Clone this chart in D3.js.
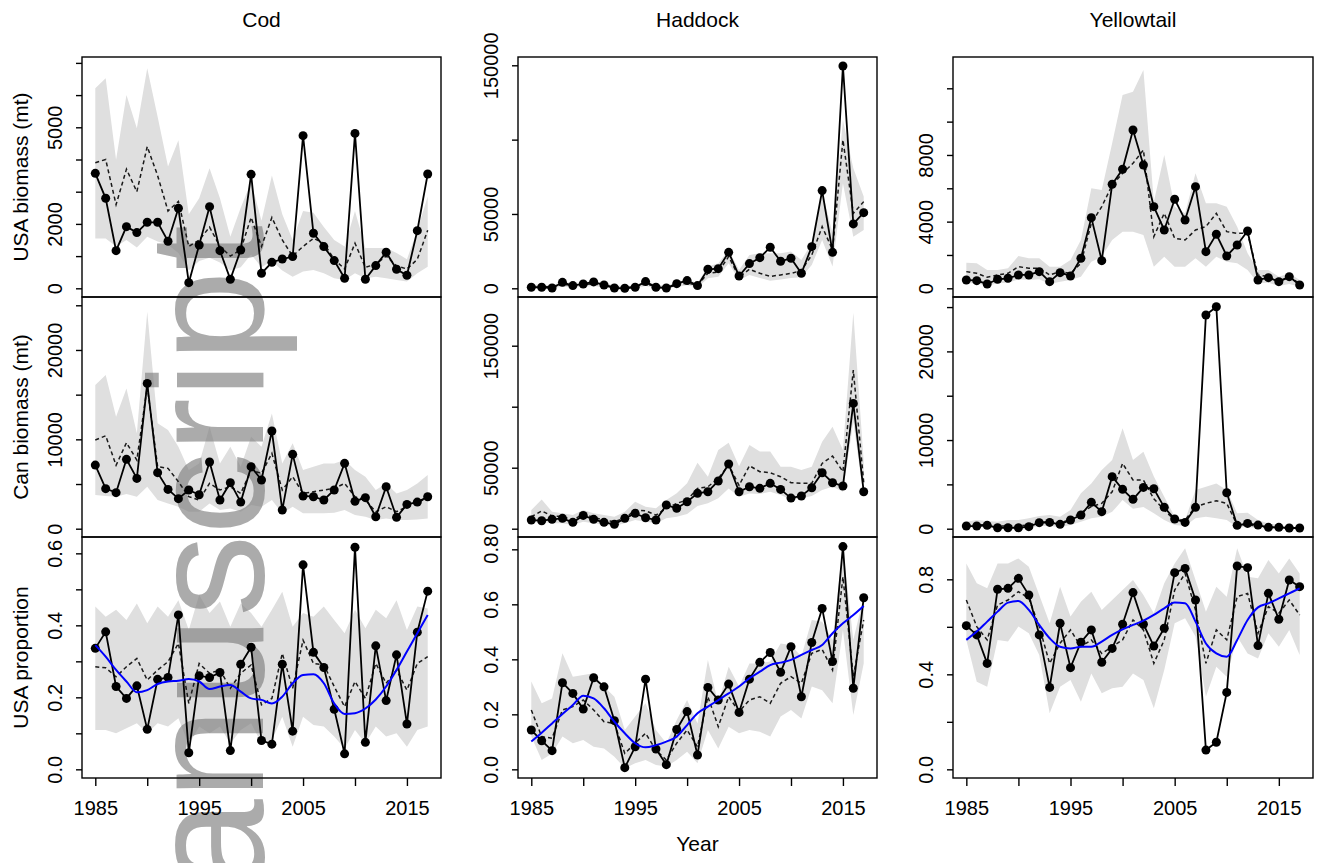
<!DOCTYPE html>
<html>
<head>
<meta charset="utf-8">
<script src="https://cdn.jsdelivr.net/npm/d3@7"></script>
<style>
  body { margin: 0; background: #fff; }
  svg text { font-family: "Liberation Sans", Arial, sans-serif; fill: #000; }
</style>
</head>
<body>
<svg id="chart" width="1320" height="863"></svg>
<script>
// ---- data ----
const years = d3.range(1985, 2018);
const stocks = ["Cod", "Haddock", "Yellowtail"];
const rowTitles = ["USA biomass (mt)", "Can biomass (mt)", "USA proportion"];
const xTicks = [1985, 1990, 1995, 2000, 2005, 2010, 2015];
const xTickLabels = [1985, 1995, 2005, 2015];

// Cod
const codUSA = [3570, 2795, 1170, 1915, 1730, 2050, 2050, 1460, 2485, 175, 1345, 2535, 1170, 280, 1190, 3540, 465, 807, 910, 985, 4740, 1710, 1295, 860, 310, 4810, 280, 705, 1120, 590, 405, 1790, 3550];
const codUSAFit = [3900, 4000, 2600, 3700, 3000, 4400, 3500, 2400, 2700, 1300, 1500, 1900, 1300, 1000, 1200, 2200, 1300, 2200, 1500, 1000, 1300, 1550, 1400, 900, 600, 1400, 650, 750, 1000, 700, 600, 900, 1800];
const codUSAHi = [6210, 6520, 3990, 6000, 4970, 6830, 5330, 3780, 4600, 2300, 2800, 3730, 2800, 1600, 2500, 3300, 2100, 3500, 2300, 1500, 2400, 2350, 1900, 1500, 1300, 2400, 1250, 1250, 1250, 1100, 900, 1800, 2850];
const codUSALo = [1550, 1550, 1300, 1500, 1270, 1600, 1450, 1350, 1100, 550, 850, 950, 800, 550, 650, 1050, 650, 850, 550, 360, 520, 570, 470, 310, 260, 470, 310, 360, 310, 260, 210, 470, 670];

const codCan = [7120, 4480, 4030, 7760, 5630, 16260, 6270, 4400, 3360, 4330, 3800, 7460, 3210, 5150, 2980, 6940, 5450, 10930, 2090, 8320, 3660, 3580, 3210, 4330, 7310, 3060, 3470, 1340, 4700, 1270, 2720, 2980, 3580];
const codCanFit = [9920, 10400, 7100, 9620, 7680, 15900, 6940, 6750, 5260, 3580, 3210, 5070, 4330, 4700, 3950, 6560, 6190, 8430, 4330, 5820, 3950, 4140, 4330, 4510, 5070, 3580, 3210, 1900, 2460, 1900, 2460, 2830, 3580];
const codCanHi = [16080, 17200, 12530, 15700, 10670, 24280, 11790, 11040, 9180, 6560, 7310, 11410, 7310, 9180, 6940, 10290, 9180, 12900, 7310, 9550, 6560, 6940, 7310, 7310, 7680, 6560, 5820, 4330, 5070, 3950, 4330, 5070, 6000];
const codCanLo = [3770, 3660, 3580, 3880, 3580, 4700, 3210, 2830, 2460, 1900, 1900, 2830, 2090, 2270, 1900, 2650, 2460, 3210, 1720, 2460, 1720, 1720, 1720, 1790, 2090, 1530, 1340, 970, 1150, 970, 970, 1040, 1150];

const codProp = [0.336, 0.382, 0.230, 0.197, 0.232, 0.111, 0.250, 0.255, 0.429, 0.046, 0.260, 0.255, 0.269, 0.052, 0.292, 0.339, 0.080, 0.070, 0.292, 0.106, 0.568, 0.325, 0.283, 0.167, 0.043, 0.617, 0.075, 0.343, 0.191, 0.318, 0.126, 0.381, 0.495];
const codPropFit = [0.285, 0.282, 0.257, 0.285, 0.308, 0.248, 0.276, 0.299, 0.350, 0.183, 0.294, 0.267, 0.276, 0.225, 0.267, 0.290, 0.179, 0.197, 0.322, 0.225, 0.359, 0.294, 0.290, 0.230, 0.174, 0.244, 0.197, 0.294, 0.239, 0.276, 0.220, 0.294, 0.313];
const codPropHi = [0.452, 0.424, 0.443, 0.415, 0.461, 0.406, 0.452, 0.424, 0.470, 0.387, 0.484, 0.434, 0.466, 0.396, 0.461, 0.434, 0.396, 0.443, 0.493, 0.396, 0.434, 0.424, 0.452, 0.415, 0.378, 0.443, 0.392, 0.443, 0.420, 0.470, 0.387, 0.452, 0.447];
const codPropLo = [0.109, 0.109, 0.100, 0.114, 0.128, 0.100, 0.128, 0.119, 0.142, 0.068, 0.119, 0.100, 0.119, 0.072, 0.109, 0.128, 0.072, 0.081, 0.146, 0.063, 0.146, 0.123, 0.119, 0.091, 0.058, 0.109, 0.072, 0.119, 0.091, 0.100, 0.063, 0.109, 0.119];
const codPropSmooth = [0.345, 0.313, 0.276, 0.244, 0.214, 0.220, 0.237, 0.244, 0.246, 0.251, 0.244, 0.223, 0.230, 0.234, 0.216, 0.197, 0.193, 0.183, 0.202, 0.239, 0.262, 0.264, 0.239, 0.183, 0.154, 0.156, 0.169, 0.194, 0.230, 0.276, 0.327, 0.378, 0.429];

// Haddock
const hadUSA = [700, 700, 200, 4000, 1800, 2900, 4300, 2200, 200, 0, 700, 4500, 700, 200, 3100, 5200, 1800, 12800, 13200, 24200, 8300, 16600, 20600, 27600, 18200, 20200, 10100, 28000, 65700, 24200, 149500, 43300, 50900];
const hadUSAFit = [1500, 1200, 900, 2500, 2000, 2500, 3000, 2000, 1000, 500, 1000, 3000, 1200, 500, 2000, 3500, 2000, 10100, 11000, 21300, 7500, 12800, 10100, 8000, 9000, 10000, 12000, 22400, 41500, 25800, 99800, 50400, 58300];
const hadUSAHi = [2500, 2500, 2000, 4500, 3500, 4000, 5000, 3500, 2000, 1500, 2000, 5000, 2500, 1500, 4000, 6000, 3500, 14600, 16800, 25800, 12300, 22400, 23500, 23500, 23500, 24700, 19000, 30300, 65000, 37000, 113000, 80700, 61700];
const hadUSALo = [0, 0, 0, 1000, 500, 1000, 1500, 500, 0, 0, 0, 1500, 0, 0, 800, 2000, 500, 6700, 7800, 16800, 5600, 9000, 7000, 5000, 6000, 7000, 7500, 15700, 32500, 14600, 70600, 34700, 39200];

const hadCan = [7100, 6560, 7650, 8470, 5190, 10900, 7650, 5190, 3550, 8470, 12570, 9000, 7100, 19400, 16700, 22100, 29000, 30300, 39100, 53000, 30300, 34400, 33100, 37200, 32200, 25100, 26800, 33600, 45900, 37700, 35000, 102700, 30300];
const hadCanFit = [9800, 14500, 10400, 9800, 7100, 12000, 9300, 7100, 5700, 8500, 15300, 14700, 11200, 16700, 20800, 23500, 33000, 34400, 41200, 52200, 35500, 51600, 46700, 45900, 42600, 37700, 37200, 37200, 53500, 59500, 46700, 130000, 38000];
const hadCanHi = [15300, 24000, 13900, 12600, 11200, 15300, 12600, 11200, 9800, 13900, 22100, 18000, 16700, 23500, 29000, 37200, 54100, 42600, 64500, 70500, 51100, 68600, 63200, 63200, 50800, 50800, 48100, 50800, 71300, 83600, 64500, 177000, 55000];
const hadCanLo = [4900, 5700, 4400, 4400, 3000, 5700, 4400, 3000, 2200, 4400, 7100, 5700, 4400, 8500, 9800, 12000, 18600, 20800, 24900, 33000, 26200, 28900, 28400, 30300, 27600, 24000, 24900, 26800, 31700, 34400, 30300, 87700, 26000];

const hadProp = [0.143, 0.104, 0.068, 0.315, 0.276, 0.219, 0.333, 0.300, 0.177, 0.006, 0.082, 0.328, 0.074, 0.017, 0.145, 0.210, 0.052, 0.298, 0.252, 0.310, 0.207, 0.328, 0.389, 0.425, 0.353, 0.446, 0.264, 0.461, 0.585, 0.392, 0.810, 0.295, 0.624];
const hadPropFit = [0.216, 0.119, 0.113, 0.216, 0.228, 0.252, 0.216, 0.173, 0.167, 0.058, 0.095, 0.131, 0.070, 0.034, 0.095, 0.143, 0.082, 0.264, 0.155, 0.264, 0.210, 0.252, 0.264, 0.240, 0.313, 0.337, 0.313, 0.422, 0.436, 0.361, 0.700, 0.337, 0.543];
const hadPropHi = [0.319, 0.240, 0.258, 0.422, 0.337, 0.343, 0.349, 0.301, 0.264, 0.143, 0.192, 0.240, 0.143, 0.095, 0.179, 0.252, 0.167, 0.398, 0.240, 0.373, 0.301, 0.385, 0.385, 0.392, 0.458, 0.452, 0.410, 0.543, 0.537, 0.470, 0.810, 0.470, 0.628];
const hadPropLo = [0.119, 0.034, 0.058, 0.119, 0.095, 0.107, 0.082, 0.076, 0.046, 0.004, 0.022, 0.034, 0.016, 0.010, 0.034, 0.064, 0.022, 0.143, 0.076, 0.155, 0.131, 0.143, 0.137, 0.119, 0.192, 0.216, 0.185, 0.301, 0.288, 0.240, 0.507, 0.198, 0.385];
const hadPropSmooth = [0.101, 0.133, 0.167, 0.201, 0.234, 0.268, 0.258, 0.222, 0.173, 0.131, 0.095, 0.080, 0.088, 0.101, 0.119, 0.161, 0.204, 0.228, 0.252, 0.276, 0.301, 0.331, 0.355, 0.379, 0.388, 0.398, 0.416, 0.434, 0.452, 0.495, 0.531, 0.561, 0.594];

// Yellowtail
const ytUSA = [500, 460, 260, 540, 600, 800, 800, 1000, 400, 940, 740, 1800, 4240, 1660, 6240, 7140, 9500, 7400, 4900, 3500, 5340, 4100, 6100, 2200, 3240, 1940, 2600, 3440, 500, 640, 400, 700, 200];
const ytUSAFit = [1000, 900, 660, 800, 900, 1300, 1200, 1200, 800, 1000, 900, 1500, 3900, 4900, 6200, 6900, 7500, 8300, 3100, 4500, 3000, 2900, 3500, 3700, 4500, 3400, 3300, 3300, 800, 700, 400, 660, 300];
const ytUSAHi = [1540, 1500, 1100, 1100, 1200, 1940, 1800, 1800, 1300, 1300, 1700, 2900, 6000, 5900, 8700, 11600, 11800, 13100, 5200, 8000, 4900, 4500, 6900, 5100, 5100, 4900, 3700, 2100, 1100, 1100, 700, 900, 500];
const ytUSALo = [300, 300, 140, 300, 340, 540, 500, 540, 260, 400, 500, 700, 1600, 1900, 2900, 3400, 3400, 3200, 1300, 1900, 1300, 1300, 1800, 1300, 1900, 1600, 1500, 1100, 300, 340, 140, 260, 100];

const ytCan = [300, 300, 380, 110, 110, 110, 230, 680, 710, 490, 980, 1540, 2970, 1920, 5870, 4440, 3310, 4660, 4510, 2410, 1090, 710, 2410, 24100, 25040, 4060, 380, 600, 410, 150, 150, 80, 80];
const ytCanFit = [400, 450, 450, 300, 300, 350, 400, 700, 800, 600, 1100, 1800, 2480, 2860, 4170, 7370, 5490, 5490, 3380, 2110, 980, 980, 2480, 2860, 3160, 2860, 410, 410, 300, 150, 150, 80, 80];
const ytCanHi = [790, 980, 870, 790, 980, 980, 1170, 1430, 1540, 1350, 2110, 3990, 5110, 6620, 7750, 11320, 7750, 8690, 5900, 3610, 1350, 980, 4360, 4740, 5110, 4360, 1730, 1800, 980, 600, 410, 230, 150];
const ytCanLo = [150, 150, 150, 0, 0, 0, 80, 300, 300, 150, 410, 790, 1170, 1350, 1900, 3230, 2260, 2450, 1730, 980, 410, 300, 1170, 1350, 1170, 980, 150, 150, 80, 0, 0, 0, 0];

const ytProp = [0.605, 0.566, 0.446, 0.758, 0.762, 0.804, 0.734, 0.566, 0.345, 0.615, 0.428, 0.535, 0.587, 0.451, 0.509, 0.611, 0.744, 0.611, 0.519, 0.594, 0.828, 0.846, 0.713, 0.081, 0.114, 0.324, 0.856, 0.849, 0.521, 0.741, 0.632, 0.797, 0.769];
const ytPropFit = [0.713, 0.601, 0.545, 0.692, 0.713, 0.748, 0.720, 0.601, 0.446, 0.531, 0.587, 0.516, 0.545, 0.488, 0.516, 0.545, 0.629, 0.587, 0.446, 0.545, 0.755, 0.825, 0.671, 0.446, 0.587, 0.545, 0.727, 0.741, 0.573, 0.685, 0.657, 0.713, 0.650];
const ytPropHi = [0.867, 0.783, 0.762, 0.867, 0.867, 0.888, 0.853, 0.734, 0.615, 0.769, 0.643, 0.706, 0.748, 0.671, 0.713, 0.755, 0.797, 0.734, 0.657, 0.783, 0.867, 0.931, 0.797, 0.664, 0.769, 0.727, 0.931, 0.811, 0.804, 0.881, 0.825, 0.888, 0.825];
const ytPropLo = [0.545, 0.369, 0.348, 0.545, 0.538, 0.601, 0.573, 0.481, 0.236, 0.348, 0.376, 0.285, 0.404, 0.320, 0.341, 0.348, 0.404, 0.376, 0.257, 0.418, 0.615, 0.636, 0.559, 0.306, 0.432, 0.390, 0.559, 0.488, 0.467, 0.573, 0.516, 0.587, 0.481];
const ytPropSmooth = [0.545, 0.580, 0.622, 0.664, 0.702, 0.709, 0.671, 0.608, 0.552, 0.516, 0.509, 0.516, 0.516, 0.538, 0.566, 0.589, 0.608, 0.626, 0.650, 0.678, 0.702, 0.699, 0.622, 0.530, 0.488, 0.474, 0.545, 0.629, 0.682, 0.699, 0.720, 0.741, 0.762];

// y axis domains (R style 4% padding) and ticks
const panels = [
  { col: 0, row: 0, obs: codUSA, fit: codUSAFit, lo: codUSALo, hi: codUSAHi, dom: [-270, 7183], ticks: [0, 1000, 2000, 3000, 4000, 5000, 6000, 7000], labels: [0, 2000, 5000] },
  { col: 0, row: 1, obs: codCan, fit: codCanFit, lo: codCanLo, hi: codCanHi, dom: [-929, 25928], ticks: [0, 5000, 10000, 15000, 20000, 25000], labels: [0, 10000, 20000] },
  { col: 0, row: 2, obs: codProp, fit: codPropFit, lo: codPropLo, hi: codPropHi, smooth: codPropSmooth, dom: [-0.0241, 0.6454], ticks: [0, 0.1, 0.2, 0.3, 0.4, 0.5, 0.6], labels: [0, 0.2, 0.4, 0.6], prop: true },
  { col: 1, row: 0, obs: hadUSA, fit: hadUSAFit, lo: hadUSALo, hi: hadUSAHi, dom: [-5852, 155577], ticks: [0, 50000, 100000, 150000], labels: [0, 50000, 150000] },
  { col: 1, row: 1, obs: hadCan, fit: hadCanFit, lo: hadCanLo, hi: hadCanHi, dom: [-6803, 189924], ticks: [0, 50000, 100000, 150000], labels: [0, 50000, 150000] },
  { col: 1, row: 2, obs: hadProp, fit: hadPropFit, lo: hadPropLo, hi: hadPropHi, smooth: hadPropSmooth, dom: [-0.0315, 0.8448], ticks: [0, 0.2, 0.4, 0.6, 0.8], labels: [0, 0.2, 0.4, 0.6, 0.8], prop: true },
  { col: 2, row: 0, obs: ytUSA, fit: ytUSAFit, lo: ytUSALo, hi: ytUSAHi, dom: [-522, 13878], ticks: [0, 2000, 4000, 6000, 8000, 10000, 12000], labels: [0, 4000, 8000] },
  { col: 2, row: 1, obs: ytCan, fit: ytCanFit, lo: ytCanLo, hi: ytCanHi, dom: [-936, 26136], ticks: [0, 5000, 10000, 15000, 20000, 25000], labels: [0, 10000, 20000] },
  { col: 2, row: 2, obs: ytProp, fit: ytPropFit, lo: ytPropLo, hi: ytPropHi, smooth: ytPropSmooth, dom: [-0.0365, 0.9782], ticks: [0, 0.2, 0.4, 0.6, 0.8], labels: [0, 0.4, 0.8], prop: true }
];

// ---- layout ----
const colX = [82, 518, 953], colW = [359, 359, 360];
const rowY = [57, 297, 537], rowH = [240, 240, 241];
const xDomain = [1983.72, 2018.28];

const svg = d3.select("#chart");
const defs = svg.append("defs");
const gRibbon = svg.append("g");
const gMark = svg.append("g");
const gLines = svg.append("g");
const gAxes = svg.append("g");

const fmtInt = d3.format("d");
const fmtProp = d3.format(".1f");

panels.forEach((p, k) => {
  const x0 = colX[p.col], y0 = rowY[p.row], w = colW[p.col], h = rowH[p.row];
  const x = d3.scaleLinear().domain(xDomain).range([x0, x0 + w]);
  const y = d3.scaleLinear().domain(p.dom).range([y0 + h, y0]);

  const clipId = "clip" + k;
  defs.append("clipPath").attr("id", clipId)
    .append("rect").attr("x", x0).attr("y", y0).attr("width", w).attr("height", h);

  const rows = years.map((yr, i) => ({
    yr, obs: p.obs[i], fit: p.fit[i], lo: p.lo[i], hi: p.hi[i],
    sm: p.smooth ? p.smooth[i] : null
  }));

  // confidence ribbon
  gRibbon.append("path")
    .datum(rows)
    .attr("clip-path", `url(#${clipId})`)
    .attr("fill", "#dfdfdf")
    .attr("d", d3.area().x(d => x(d.yr)).y0(d => y(d.lo)).y1(d => y(d.hi)));

  const g = gLines.append("g").attr("clip-path", `url(#${clipId})`);

  // model fit (dashed)
  g.append("path")
    .datum(rows)
    .attr("fill", "none")
    .attr("stroke", "#1a1a1a")
    .attr("stroke-width", 1.5)
    .attr("stroke-dasharray", "4,3")
    .attr("d", d3.line().x(d => x(d.yr)).y(d => y(d.fit)));

  // observed
  g.append("path")
    .datum(rows)
    .attr("fill", "none")
    .attr("stroke", "#000")
    .attr("stroke-width", 1.8)
    .attr("d", d3.line().x(d => x(d.yr)).y(d => y(d.obs)));

  g.selectAll("circle")
    .data(rows)
    .join("circle")
    .attr("cx", d => x(d.yr))
    .attr("cy", d => y(d.obs))
    .attr("r", 4.5)
    .attr("fill", "#000");

  // smoother
  if (p.smooth) {
    g.append("path")
      .datum(rows)
      .attr("fill", "none")
      .attr("stroke", "#0000ff")
      .attr("stroke-width", 2)
      .attr("d", d3.line().curve(d3.curveMonotoneX).x(d => x(d.yr)).y(d => y(d.sm)));
  }

  // box
  gAxes.append("rect")
    .attr("x", x0).attr("y", y0).attr("width", w).attr("height", h)
    .attr("fill", "none").attr("stroke", "#000").attr("stroke-width", 1.4);

  // y axis
  const fmt = p.prop ? fmtProp : fmtInt;
  const yAxis = gAxes.append("g")
    .attr("transform", `translate(${x0},0)`)
    .call(d3.axisLeft(y).tickValues(p.ticks).tickSize(6).tickSizeOuter(0)
      .tickFormat(d => p.labels.some(v => Math.abs(v - d) < 1e-9) ? fmt(d) : ""));
  yAxis.select(".domain").remove();
  yAxis.selectAll(".tick line").attr("stroke", "#000").attr("stroke-width", 1.4);
  yAxis.selectAll(".tick text")
    .attr("transform", "rotate(-90)")
    .attr("x", 0).attr("y", -20).attr("dy", 0)
    .attr("text-anchor", "middle")
    .attr("font-size", 20)
    .attr("font-family", null);

  // x axis on bottom row
  if (p.row === 2) {
    const xAxis = gAxes.append("g")
      .attr("transform", `translate(0,${y0 + h})`)
      .call(d3.axisBottom(x).tickValues(xTicks).tickSize(8).tickSizeOuter(0)
        .tickFormat(d => xTickLabels.includes(d) ? String(d) : ""));
    xAxis.select(".domain").remove();
    xAxis.selectAll(".tick line").attr("stroke", "#000").attr("stroke-width", 1.4);
    xAxis.selectAll(".tick text")
      .attr("y", 23).attr("font-size", 20).attr("font-family", null);
  }
});

// stock titles
stocks.forEach((s, c) => {
  svg.append("text")
    .attr("x", colX[c] + colW[c] / 2).attr("y", 27)
    .attr("text-anchor", "middle").attr("font-size", 21)
    .text(s);
});

// row titles
rowTitles.forEach((t, r) => {
  svg.append("text")
    .attr("transform", `translate(28,${rowY[r] + rowH[r] / 2}) rotate(-90)`)
    .attr("text-anchor", "middle").attr("font-size", 21)
    .text(t);
});

svg.append("text")
  .attr("x", colX[1] + colW[1] / 2).attr("y", 851)
  .attr("text-anchor", "middle").attr("font-size", 21)
  .text("Year");

// watermark, runs off the bottom edge as in the source
gMark.append("text")
  .attr("transform", "translate(263,225) rotate(-90)")
  .attr("text-anchor", "end")
  .attr("font-size", 164)
  .style("fill", "#808080")
  .attr("opacity", 0.66)
  .text("Author Manuscript");
</script>
</body>
</html>
